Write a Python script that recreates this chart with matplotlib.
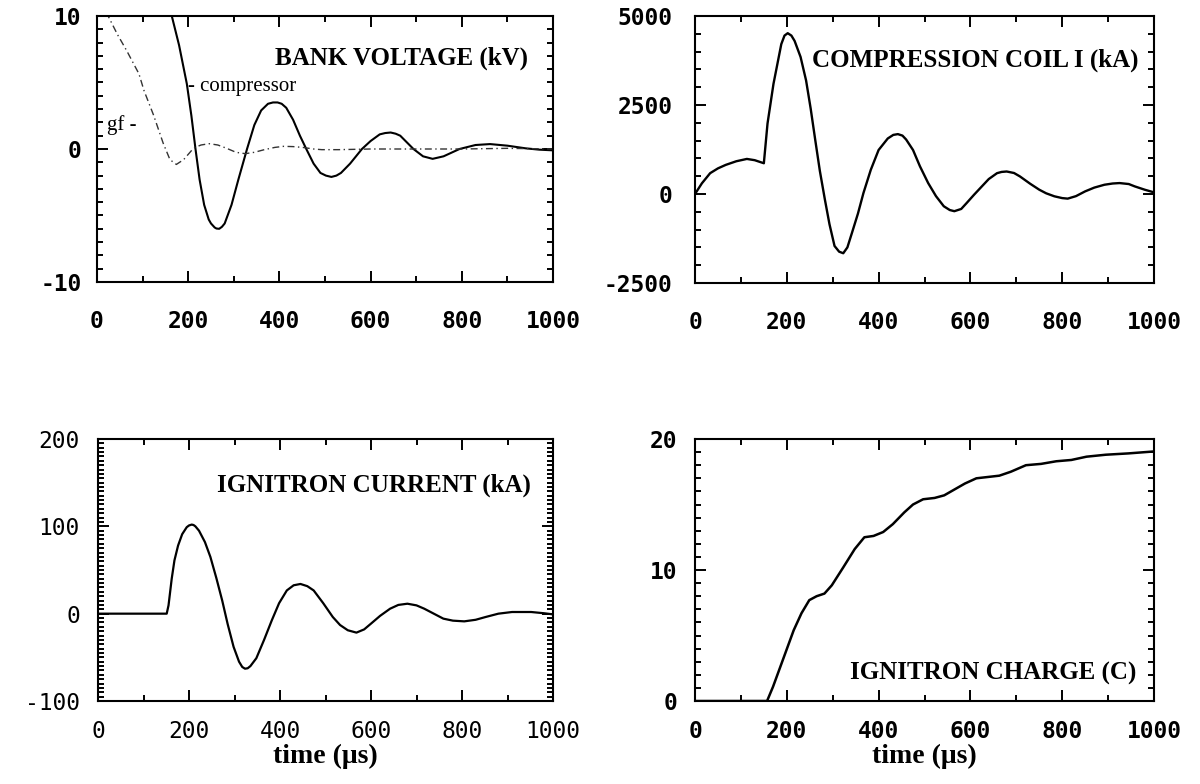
import matplotlib
matplotlib.use("Agg")
import matplotlib.pyplot as plt
from matplotlib.ticker import MultipleLocator

plt.rcParams["axes.unicode_minus"] = False

# ---------------- data ----------------
bank_t = [100, 150, 164, 180, 197, 207, 216, 225, 235, 245, 250, 258, 262, 268, 274, 280, 295,
          310, 329, 345, 360, 375, 386, 396, 405, 415, 430, 445, 459, 475, 490, 502, 514, 525,
          535, 555, 581, 600, 620, 632, 644, 655, 665, 694, 715, 736, 760, 795, 830, 862, 900,
          940, 970, 1000]
bank_v = [14, 12, 10, 7.8, 4.9, 2.5, 0, -2.3, -4.2, -5.3, -5.6, -5.9, -5.98, -6.0, -5.85, -5.6,
          -4.2, -2.3, 0, 1.8, 2.9, 3.4, 3.5, 3.5, 3.4, 3.1, 2.2, 1.0, 0, -1.1, -1.8, -2.0, -2.1,
          -2.0, -1.8, -1.1, 0, 0.6, 1.1, 1.2, 1.24, 1.15, 1.0, 0, -0.55, -0.74, -0.55, 0, 0.3,
          0.37, 0.25, 0.05, -0.05, -0.1]

gf_t = [20, 45, 65, 92, 103, 124, 145, 160, 174, 190, 212, 228, 246, 265, 283, 305, 325,
        345, 367, 390, 409, 430, 451, 475, 493, 530, 600, 700, 800, 900, 1000]
gf_v = [10.3, 8.6, 7.4, 5.65, 4.4, 2.55, 0.45, -0.8, -1.16, -0.8, 0.07, 0.3, 0.4, 0.3, 0.07,
        -0.25, -0.35, -0.25, -0.05, 0.12, 0.2, 0.18, 0.12, 0.0, -0.05, -0.05, 0.0, 0.0, 0.0,
        0.05, 0.0]

coil_t = [0, 15, 33, 50, 67, 90, 113, 130, 150, 158, 171, 188, 195, 202, 210, 217, 230, 242,
          252, 262, 272, 283, 293, 304, 314, 323, 332, 342, 355, 367, 383, 400, 420, 432, 442,
          452, 460, 475, 490, 508, 525, 542, 555, 565, 580, 592, 608, 625, 640, 658, 668, 679,
          695, 708, 730, 750, 765, 783, 800, 812, 830, 850, 870, 892, 910, 925, 945, 958, 980,
          1000]
coil_i = [0, 300, 585, 720, 818, 920, 985, 950, 864, 1980, 3095, 4210, 4450, 4517, 4450, 4300,
          3850, 3190, 2400, 1515, 650, -158, -850, -1460, -1620, -1664, -1500, -1090, -550, 28,
          680, 1236, 1560, 1660, 1682, 1640, 1530, 1236, 780, 307, -60, -344, -450, -483, -420,
          -251, -20, 214, 420, 585, 620, 632, 590, 493, 290, 121, 20, -65, -115, -130, -60, 74,
          180, 260, 295, 307, 280, 214, 120, 46]

ign_t = [0, 151, 155, 162, 168, 176, 185, 195, 200, 206, 210, 214, 222, 235, 247, 260, 273,
         285, 298, 310, 317, 323, 329, 335, 348, 365, 382, 398, 415, 430, 445, 460, 474, 495,
         516, 532, 549, 568, 585, 600, 620, 642, 660, 680, 700, 717, 738, 759, 780, 805, 830,
         852, 880, 910, 952, 980, 1000]
ign_i = [0, 0, 9.5, 40, 61, 78, 91, 99, 101, 102, 101.5, 100, 95, 82, 65, 41, 15, -12, -38,
         -55, -61, -63, -62.5, -60, -51, -30, -7.6, 12, 26.6, 32.5, 34, 31.5, 26.6, 12, -3.8,
         -13, -19, -21.7, -18, -11.4, -2.5, 5.7, 10, 11.4, 9.5, 5.7, 0, -5.7, -8, -8.8, -7,
         -3.8, 0, 1.9, 1.9, 0.5, -0.8]

chg_t = [0, 157, 170, 191, 215, 232, 249, 265, 282, 298, 323, 348, 369, 389, 410, 431, 456,
         475, 497, 522, 543, 563, 588, 613, 638, 663, 688, 721, 754, 787, 820, 853, 895, 944,
         1000]
chg_q = [0, 0, 1.09, 3.1, 5.4, 6.7, 7.7, 8.0, 8.2, 8.83, 10.2, 11.6, 12.5, 12.6, 12.9, 13.5,
         14.4, 15.0, 15.4, 15.5, 15.7, 16.1, 16.6, 17.0, 17.1, 17.2, 17.5, 18.0, 18.1, 18.3,
         18.4, 18.65, 18.8, 18.9, 19.05]

titles = ["BANK VOLTAGE (kV)", "COMPRESSION COIL I (kA)", "IGNITRON CURRENT (kA)",
          "IGNITRON CHARGE (C)"]
xticks = [0, 200, 400, 600, 800, 1000]
xlabel = "time (μs)"

# ---------------- figure ----------------
fig = plt.figure(figsize=(12, 7.84), dpi=100)
W, H = 1200, 784

def mkax(x0, x1, y0, y1):
    return fig.add_axes([x0 / W, 1 - y1 / H, (x1 - x0) / W, (y1 - y0) / H])

ax1 = mkax(97, 553, 16, 282)
ax2 = mkax(695, 1154, 16, 283)
ax3 = mkax(98, 553, 439, 701)
ax4 = mkax(695, 1154, 439, 701)

serif = "Liberation Serif"
mono = "DejaVu Sans Mono"

def style(ax, ylim, ymaj, ymin, ypad, xpad, weight="bold"):
    ax.set_xlim(0, 1000)
    ax.set_ylim(*ylim)
    ax.set_xticks(xticks)
    ax.xaxis.set_minor_locator(MultipleLocator(100))
    ax.yaxis.set_major_locator(MultipleLocator(ymaj))
    ax.yaxis.set_minor_locator(MultipleLocator(ymin))
    ax.tick_params(which="both", direction="in", top=True, right=True, width=1.4,
                   color="black")
    ax.tick_params(which="major", length=8)
    ax.tick_params(which="minor", length=4)
    ax.tick_params(axis="x", which="major", pad=xpad)
    ax.tick_params(axis="y", which="major", pad=ypad)
    for lab in ax.get_xticklabels() + ax.get_yticklabels():
        lab.set_fontfamily(mono)
        lab.set_fontsize(16.5)
        lab.set_fontweight(weight)
    for s in ax.spines.values():
        s.set_linewidth(1.5)

# panel 1
ax1.plot(bank_t, bank_v, color="black", lw=1.5)
ax1.plot(gf_t, gf_v, color="#333333", lw=1.0, dashes=(5, 2.5, 1, 2.5))
style(ax1, (-10, 10), 10, 1, 11, 20)
ax1.text(0.945, 0.84, titles[0], transform=ax1.transAxes, ha="right", va="center",
         fontfamily=serif, fontweight="bold", fontsize=18)
ax1.text(200, 4.7, "- compressor", ha="left", va="center", fontfamily=serif, fontsize=15)
ax1.text(22, 1.8, "gf -", ha="left", va="center", fontfamily=serif, fontsize=15)

# panel 2
ax2.plot(coil_t, coil_i, color="black", lw=1.7)
style(ax2, (-2500, 5000), 2500, 500, 16, 20)
ax2.text(0.967, 0.833, titles[1], transform=ax2.transAxes, ha="right", va="center",
         fontfamily=serif, fontweight="bold", fontsize=18)

# panel 3
ax3.plot(ign_t, ign_i, color="black", lw=1.6)
style(ax3, (-100, 200), 100, 5, 13, 14, weight="normal")
ax3.text(0.952, 0.822, titles[2], transform=ax3.transAxes, ha="right", va="center",
         fontfamily=serif, fontweight="bold", fontsize=18)
ax3.set_xlabel(xlabel, fontfamily=serif, fontweight="bold", fontsize=20, labelpad=0)

# panel 4
ax4.plot(chg_t, chg_q, color="black", lw=1.8)
style(ax4, (0, 20), 10, 1, 13, 14)
ax4.text(0.961, 0.105, titles[3], transform=ax4.transAxes, ha="right", va="center",
         fontfamily=serif, fontweight="bold", fontsize=18)
ax4.set_xlabel(xlabel, fontfamily=serif, fontweight="bold", fontsize=20, labelpad=0)

fig.savefig("out.png", dpi=100)
